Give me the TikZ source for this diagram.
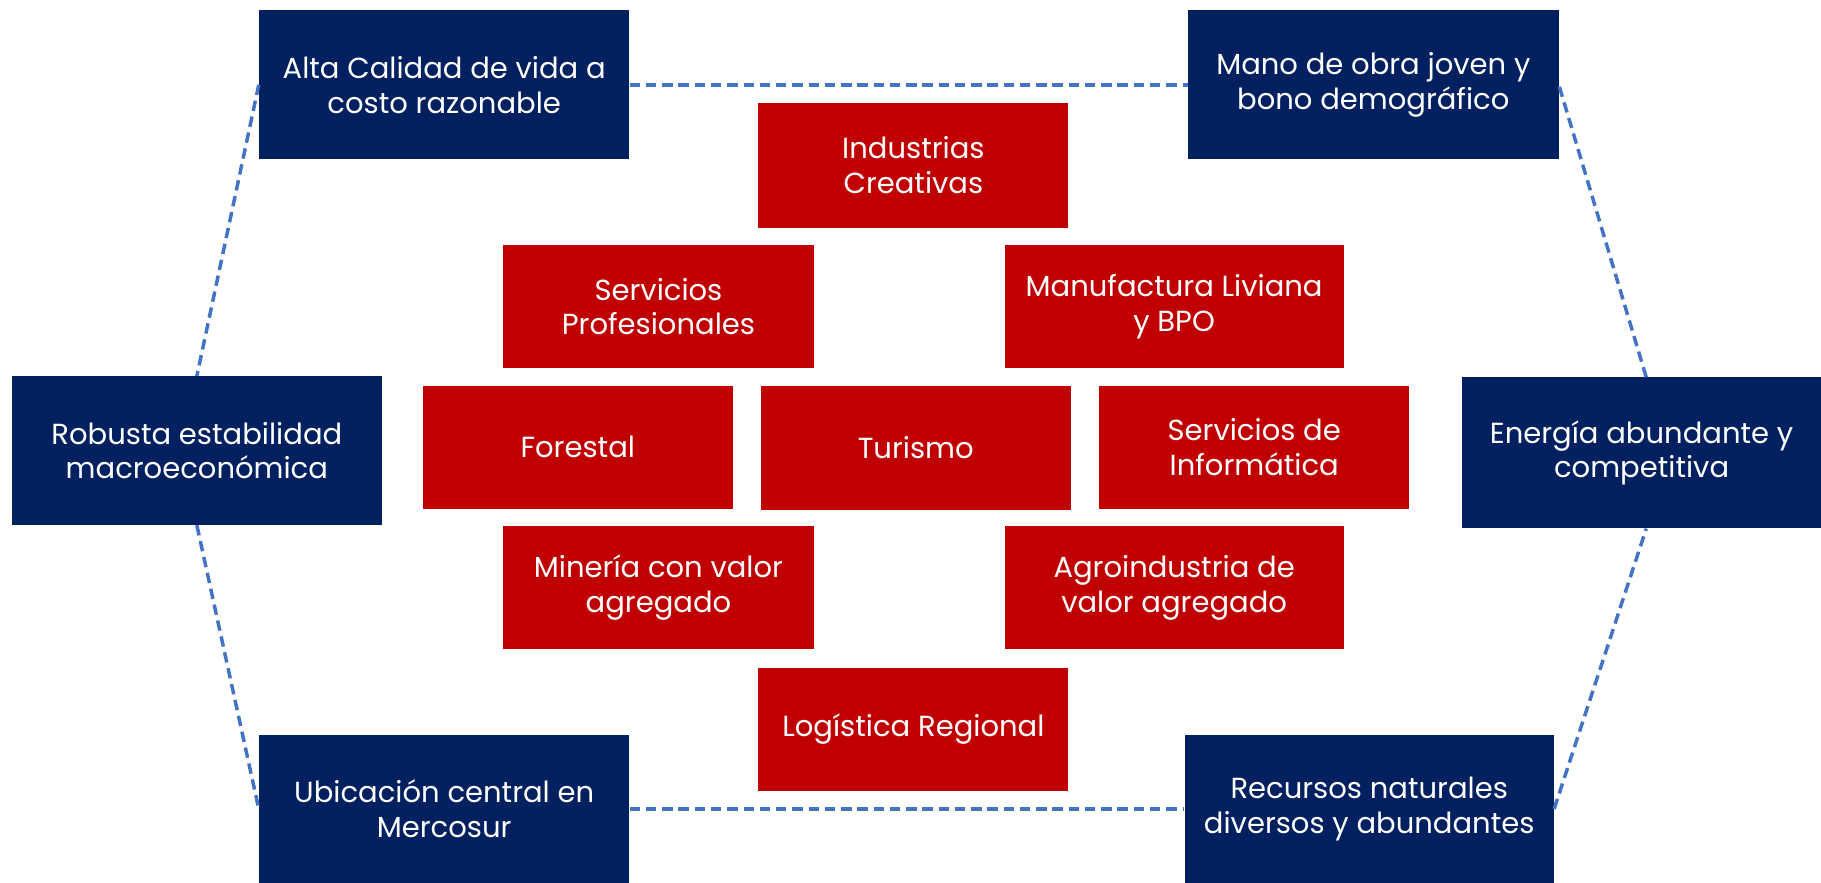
\documentclass[tikz,border=0pt]{standalone}
\usepackage{fontspec}
\setmainfont{Poppins}
\definecolor{nblue}{HTML}{002060}
\definecolor{nred}{HTML}{C00000}
\definecolor{ndash}{HTML}{4472C4}
\begin{document}
\begin{tikzpicture}[x=1pt,y=-1pt,
  boxbase/.style={text=white,align=center,inner sep=0pt,font=\fontsize{25}{30}\selectfont},
  bbox/.style={boxbase,fill=nblue,minimum width=319pt,minimum height=128pt},
  rbox/.style={boxbase,fill=nred,minimum width=267pt,minimum height=106pt},
  dline/.style={ndash,line width=3pt,dash pattern=on 9pt off 5pt}]
\useasboundingbox (0,0) rectangle (1568,760);
% blue boxes
\node[bbox] (alta) at (382.5,73) {Alta Calidad de vida a\\costo razonable};
\node[bbox] (mano) at (1182.5,73) {Mano de obra joven y\\bono demográfico};
\node[bbox] (robusta) at (169.5,388) {Robusta estabilidad\\macroeconómica};
\node[bbox,minimum width=309pt,minimum height=130pt] (energia) at (1413.5,390) {Energía abundante y\\competitiva};
\node[bbox,minimum height=127pt] (ubic) at (382.5,696.5) {Ubicación central en\\Mercosur};
\node[bbox,minimum width=318pt,minimum height=127pt] (recursos) at (1179,696.5) {Recursos naturales\\diversos y abundantes};
% red boxes
\node[rbox,minimum height=107pt] (ind) at (786.5,142.5) {Industrias\\Creativas};
\node[rbox] (serv) at (567,264) {Servicios\\Profesionales};
\node[rbox,minimum width=292pt] (manu) at (1011,264) {Manufactura Liviana\\y BPO};
\node[rbox] (forestal) at (497.5,385) {Forestal};
\node[rbox,minimum height=107pt] (turismo) at (788.5,385.5) {Turismo};
\node[rbox] (info) at (1080,385) {Servicios de\\Informática};
\node[rbox] (mineria) at (567,506) {Minería con valor\\agregado};
\node[rbox,minimum width=292pt] (agro) at (1011,506) {Agroindustria de\\valor agregado};
\node[rbox] (logistica) at (786.5,628) {Logística Regional};
% dashed hexagon
\draw[dline] (alta.east) -- (mano.west);
\draw[dline] (alta.west) -- (robusta.north);
\draw[dline] (robusta.south) -- (ubic.west);
\draw[dline] (ubic.east) -- (recursos.west);
\draw[dline] (recursos.east) -- ([xshift=4pt]energia.south);
\draw[dline] ([xshift=4pt]energia.north) -- (mano.east);
\end{tikzpicture}
\end{document}
